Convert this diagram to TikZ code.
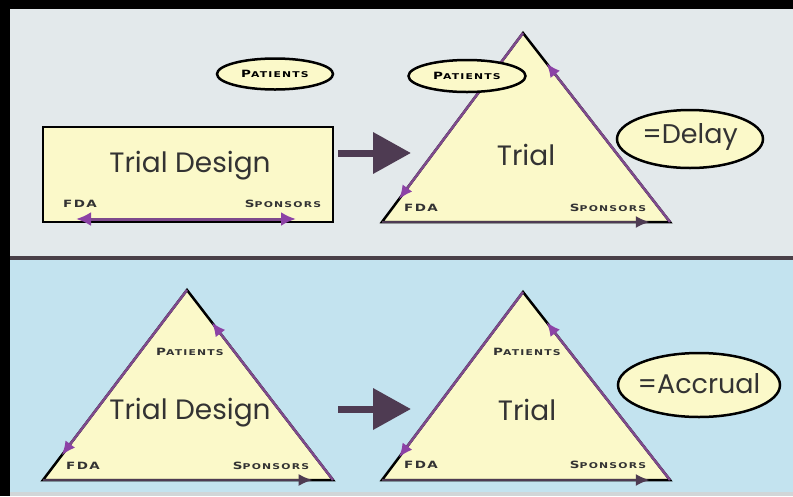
\documentclass[tikz,border=0pt]{standalone}
\usepackage{fontspec}
\setmainfont{Poppins}
\newfontfamily\capfont{DejaVu Sans}[FakeStretch=1.35,LetterSpace=15]
\usetikzlibrary{arrows.meta,calc,shapes.geometric}
\definecolor{toppanel}{HTML}{E3E9EB}
\definecolor{botpanel}{HTML}{C3E3EF}
\definecolor{sepcol}{HTML}{4A4048}
\definecolor{yel}{HTML}{FBF9C9}
\definecolor{purpline}{HTML}{7E4A8C}
\definecolor{purphead}{HTML}{8C42A6}
\definecolor{dkcol}{HTML}{4E3B52}
\definecolor{txtcol}{HTML}{333333}
\newcommand\mycaps[2]{{\capfont\bfseries\fontsize{10}{10}\selectfont #1\fontsize{8}{8}\selectfont #2}}
\tikzset{
  edgeblk/.style={draw=black, line width=2.5pt, line join=miter},
  purpedge/.style={draw=purpline, line width=2.5pt, -{Latex[length=14pt,width=12pt,color=purphead]}},
  dkedge/.style={draw=dkcol, line width=2.5pt, -{Latex[length=14pt,width=12pt,color=dkcol]}},
  twoway/.style={draw=purpline, line width=3pt, {Latex[length=15pt,width=14pt,color=purphead]}-{Latex[length=15pt,width=14pt,color=purphead]}},
  bigarrow/.style={draw=dkcol, line width=7pt, -{Triangle[length=38pt,width=40pt,color=dkcol]}},
  capsml/.style={text=txtcol, inner sep=0pt},
  bigtxt/.style={text=txtcol, inner sep=0pt, font=\fontsize{28}{28}\selectfont},
  eqtxt/.style={text=txtcol, inner sep=0pt, font=\fontsize{27}{27}\selectfont},
  oval/.style={ellipse, draw=black, line width=2.5pt, fill=yel, inner sep=0pt},
  boxrect/.style={draw=black, line width=2.5pt, fill=yel, inner sep=0pt}
}
\begin{document}
\begin{tikzpicture}[x=1pt,y=-1pt]
\useasboundingbox (0,0) rectangle (793,496);
% background panels
\fill[black] (0,0) rectangle (793,496);
\fill[toppanel] (10,9) rectangle (793,256);
\fill[sepcol] (10,256) rectangle (793,260);
\fill[botpanel] (10,260) rectangle (793,492);
\fill[black!8!toppanel] (10,492) rectangle (793,496);

% ---------- top left: rectangle ----------
\node[boxrect, minimum width=290pt, minimum height=95pt] (tdbox) at (188,174.5) {};
\node[bigtxt] (tdtxt) at (190,166) {Trial Design};
\node[capsml] (tdfda) at (80,204) {\mycaps{FDA}{}};
\node[capsml] (tdspon) at (283,204) {\mycaps{S}{PONSORS}};
\coordinate (dl) at (76,219);
\coordinate (dr) at (296,219);
\draw[twoway] (dl) -- (dr);
\node[oval, minimum width=116pt, minimum height=31pt] (pat1) at (275,74) {\mycaps{P}{ATIENTS}};

% big arrow top
\coordinate (ba1s) at (338,153);
\coordinate (ba1e) at (411,153);
\draw[bigarrow] (ba1s) -- (ba1e);

% ---------- top right: triangle ----------
\coordinate (ta1) at (523,33);
\coordinate (tl1) at (382,222);
\coordinate (tr1) at (670,222);
\fill[yel] (ta1) -- (tl1) -- (tr1) -- cycle;
\draw[edgeblk] (ta1) -- (tl1) -- (tr1) -- cycle;
\draw[purpedge] (tr1) -- ($(tr1)!0.84!(ta1)$);
\draw[purpedge] (ta1) -- ($(ta1)!0.88!(tl1)$);
\draw[dkedge] (tl1) -- ($(tl1)!0.93!(tr1)$);
\node[bigtxt] (trial1) at (526,155) {Trial};
\node[capsml] (fda1) at (421,208) {\mycaps{FDA}{}};
\node[capsml] (spon1) at (608,208) {\mycaps{S}{PONSORS}};
\node[oval, minimum width=117pt, minimum height=32pt] (pat2) at (467,76) {\mycaps{P}{ATIENTS}};
\node[oval, minimum width=146pt, minimum height=58pt] (delay) at (690,139) {};
\node[eqtxt] (delaytxt) at (690,137) {=Delay};

% ---------- bottom left: triangle ----------
\coordinate (ta2) at (187,290);
\coordinate (tl2) at (43,480);
\coordinate (tr2) at (333,480);
\fill[yel] (ta2) -- (tl2) -- (tr2) -- cycle;
\draw[edgeblk] (ta2) -- (tl2) -- (tr2) -- cycle;
\draw[purpedge] (tr2) -- ($(tr2)!0.83!(ta2)$);
\draw[purpedge] (ta2) -- ($(ta2)!0.87!(tl2)$);
\draw[dkedge] (tl2) -- ($(tl2)!0.93!(tr2)$);
\node[capsml] (pat3) at (190,352) {\mycaps{P}{ATIENTS}};
\node[bigtxt] (td2) at (190,413) {Trial Design};
\node[capsml] (fda2) at (83,466) {\mycaps{FDA}{}};
\node[capsml] (spon2) at (271,466) {\mycaps{S}{PONSORS}};

% big arrow bottom
\coordinate (ba2s) at (338,409);
\coordinate (ba2e) at (411,409);
\draw[bigarrow] (ba2s) -- (ba2e);

% ---------- bottom right: triangle ----------
\coordinate (ta3) at (523,292);
\coordinate (tl3) at (382,480);
\coordinate (tr3) at (670,480);
\fill[yel] (ta3) -- (tl3) -- (tr3) -- cycle;
\draw[edgeblk] (ta3) -- (tl3) -- (tr3) -- cycle;
\draw[purpedge] (tr3) -- ($(tr3)!0.84!(ta3)$);
\draw[purpedge] (ta3) -- ($(ta3)!0.88!(tl3)$);
\draw[dkedge] (tl3) -- ($(tl3)!0.93!(tr3)$);
\node[capsml] (pat4) at (527,352) {\mycaps{P}{ATIENTS}};
\node[bigtxt] (trial2) at (527,410) {Trial};
\node[capsml] (fda3) at (421,465) {\mycaps{FDA}{}};
\node[capsml] (spon3) at (608,465) {\mycaps{S}{PONSORS}};
\node[oval, minimum width=162pt, minimum height=64pt] (accr) at (699,385) {};
\node[eqtxt] (accrtxt) at (699,384) {=Accrual};
\end{tikzpicture}
\end{document}
